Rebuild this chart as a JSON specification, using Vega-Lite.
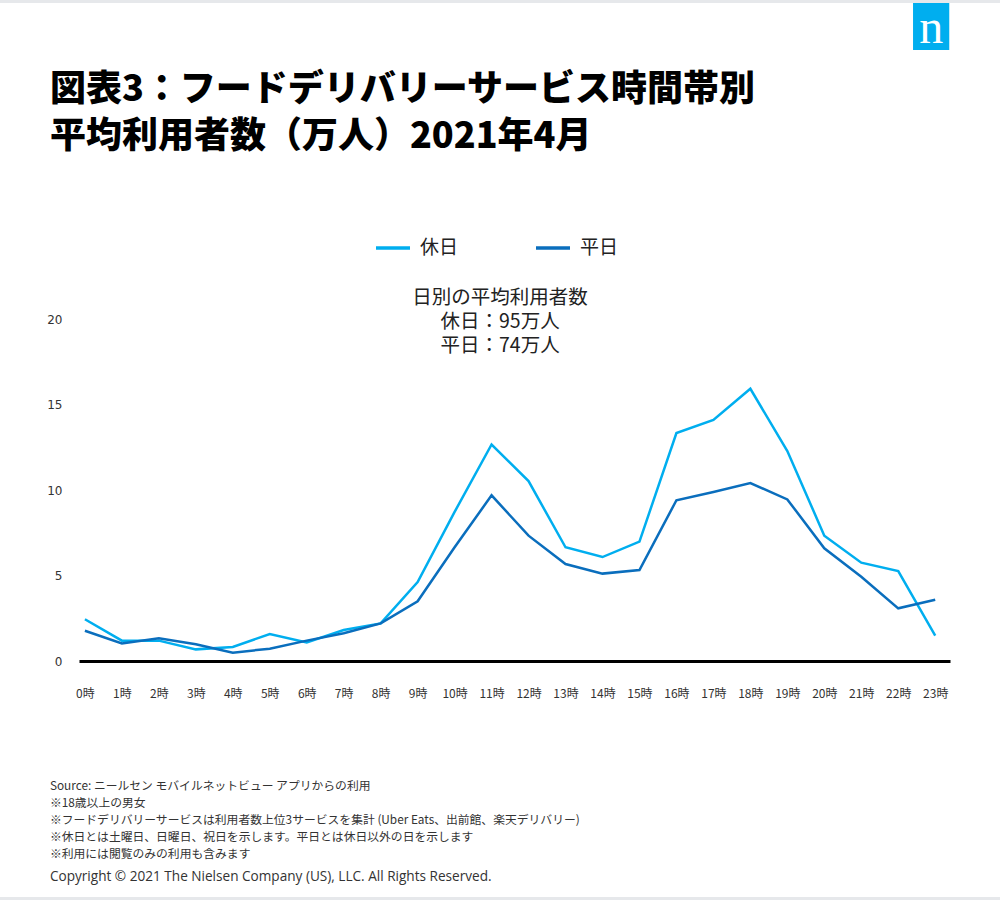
{
  "$schema": "https://vega.github.io/schema/vega-lite/v6.json",
  "autosize": "none",
  "width": 871,
  "height": 342,
  "padding": {"left": 79, "top": 319, "right": 50, "bottom": 239},
  "background": "white",
  "config": {
    "view": {"stroke": null},
    "font": "Noto Sans CJK JP",
    "axisX": {
      "title": null,
      "grid": false,
      "ticks": false,
      "domain": true,
      "domainColor": "#000000",
      "domainWidth": 3,
      "labelFont": "Noto Sans CJK JP",
      "labelFontSize": 12,
      "labelColor": "#333333",
      "labelPadding": 27,
      "labelBaseline": "top",
      "labelFlush": false,
      "labelOverlap": false,
      "labelBound": false
    },
    "axisY": {
      "title": null,
      "grid": false,
      "ticks": false,
      "domain": false,
      "labelFont": "DejaVu Sans",
      "labelFontSize": 12,
      "labelColor": "#333333",
      "labelPadding": 17
    }
  },
  "datasets": {
    "usage": [
      {"hour": 0, "type": "休日", "value": 2.44},
      {"hour": 1, "type": "休日", "value": 1.19},
      {"hour": 2, "type": "休日", "value": 1.19},
      {"hour": 3, "type": "休日", "value": 0.68},
      {"hour": 4, "type": "休日", "value": 0.82},
      {"hour": 5, "type": "休日", "value": 1.58},
      {"hour": 6, "type": "休日", "value": 1.09},
      {"hour": 7, "type": "休日", "value": 1.81},
      {"hour": 8, "type": "休日", "value": 2.2},
      {"hour": 9, "type": "休日", "value": 4.62},
      {"hour": 10, "type": "休日", "value": 8.72},
      {"hour": 11, "type": "休日", "value": 12.66},
      {"hour": 12, "type": "休日", "value": 10.52},
      {"hour": 13, "type": "休日", "value": 6.65},
      {"hour": 14, "type": "休日", "value": 6.08},
      {"hour": 15, "type": "休日", "value": 6.98},
      {"hour": 16, "type": "休日", "value": 13.33},
      {"hour": 17, "type": "休日", "value": 14.1},
      {"hour": 18, "type": "休日", "value": 15.92},
      {"hour": 19, "type": "休日", "value": 12.28},
      {"hour": 20, "type": "休日", "value": 7.33},
      {"hour": 21, "type": "休日", "value": 5.75},
      {"hour": 22, "type": "休日", "value": 5.26},
      {"hour": 23, "type": "休日", "value": 1.48},
      {"hour": 0, "type": "平日", "value": 1.77},
      {"hour": 1, "type": "平日", "value": 1.03},
      {"hour": 2, "type": "平日", "value": 1.33},
      {"hour": 3, "type": "平日", "value": 0.98},
      {"hour": 4, "type": "平日", "value": 0.49},
      {"hour": 5, "type": "平日", "value": 0.72},
      {"hour": 6, "type": "平日", "value": 1.19},
      {"hour": 7, "type": "平日", "value": 1.62},
      {"hour": 8, "type": "平日", "value": 2.2},
      {"hour": 9, "type": "平日", "value": 3.49},
      {"hour": 10, "type": "平日", "value": 6.65},
      {"hour": 11, "type": "平日", "value": 9.69},
      {"hour": 12, "type": "平日", "value": 7.33},
      {"hour": 13, "type": "平日", "value": 5.67},
      {"hour": 14, "type": "平日", "value": 5.11},
      {"hour": 15, "type": "平日", "value": 5.32},
      {"hour": 16, "type": "平日", "value": 9.4},
      {"hour": 17, "type": "平日", "value": 9.88},
      {"hour": 18, "type": "平日", "value": 10.41},
      {"hour": 19, "type": "平日", "value": 9.45},
      {"hour": 20, "type": "平日", "value": 6.59},
      {"hour": 21, "type": "平日", "value": 4.93},
      {"hour": 22, "type": "平日", "value": 3.08},
      {"hour": 23, "type": "平日", "value": 3.58}
    ],
    "one": [{}]
  },
  "layer": [
    {
      "data": {"name": "usage"},
      "mark": {"type": "line", "strokeWidth": 2.5, "clip": false},
      "encoding": {
        "x": {
          "field": "hour",
          "type": "quantitative",
          "scale": {"domain": [-0.16, 23.4], "nice": false, "zero": false},
          "axis": {"values": [0,1,2,3,4,5,6,7,8,9,10,11,12,13,14,15,16,17,18,19,20,21,22,23], "labelExpr": "datum.value + '時'", "labelOverlap": false, "tickCount": 24}
        },
        "y": {
          "field": "value",
          "type": "quantitative",
          "scale": {"domain": [0, 20], "nice": false},
          "axis": {"values": [0, 5, 10, 15, 20]}
        },
        "color": {
          "field": "type",
          "type": "nominal",
          "scale": {"domain": ["休日", "平日"], "range": ["#00AEEF", "#0A6EBD"]},
          "legend": {
            "title": null,
            "orient": "none",
            "legendX": 295,
            "legendY": -90,
            "direction": "horizontal",
            "symbolType": "stroke",
            "symbolSize": 1156,
            "symbolStrokeWidth": 3.5,
            "labelFont": "Noto Sans CJK JP",
            "labelFontSize": 19,
            "labelColor": "#222222",
            "labelOffset": 8,
            "columnPadding": 70,
            "padding": 0
          }
        }
      }
    },
    {
      "data": {"name": "one"},
      "mark": {"type": "text", "align": "left", "baseline": "alphabetic", "fontSize": 36, "fontWeight": 900, "lineHeight": 47, "lineBreak": "\n", "color": "#000000", "font": "Noto Sans CJK JP"},
      "encoding": {
        "x": {"datum": -0.947, "type": "quantitative", "axis": {"values": [0,1,2,3,4,5,6,7,8,9,10,11,12,13,14,15,16,17,18,19,20,21,22,23], "labelExpr": "datum.value + '時'", "labelOverlap": false, "tickCount": 24}},
        "y": {"datum": 32.75, "type": "quantitative", "axis": {"values": [0, 5, 10, 15, 20]}},
        "text": {"value": "図表3：フードデリバリーサービス時間帯別\n平均利用者数（万人）2021年4月"}
      }
    },
    {
      "data": {"name": "one"},
      "mark": {"type": "text", "align": "center", "baseline": "middle", "fontSize": 19.5, "lineHeight": 24, "lineBreak": "\n", "color": "#222222", "font": "Noto Sans CJK JP"},
      "encoding": {
        "x": {"datum": 11.23, "type": "quantitative", "axis": {"values": [0,1,2,3,4,5,6,7,8,9,10,11,12,13,14,15,16,17,18,19,20,21,22,23], "labelExpr": "datum.value + '時'", "labelOverlap": false, "tickCount": 24}},
        "y": {"datum": 21.23, "type": "quantitative", "axis": {"values": [0, 5, 10, 15, 20]}},
        "text": {"value": "日別の平均利用者数\n休日：95万人\n平日：74万人"}
      }
    },
    {
      "data": {"name": "one"},
      "mark": {"type": "text", "align": "left", "baseline": "middle", "fontSize": 11.8, "lineHeight": 17, "lineBreak": "\n", "color": "#333333", "font": "Noto Sans CJK JP"},
      "encoding": {
        "x": {"datum": -0.947, "type": "quantitative", "axis": {"values": [0,1,2,3,4,5,6,7,8,9,10,11,12,13,14,15,16,17,18,19,20,21,22,23], "labelExpr": "datum.value + '時'", "labelOverlap": false, "tickCount": 24}},
        "y": {"datum": -7.31, "type": "quantitative", "axis": {"values": [0, 5, 10, 15, 20]}},
        "text": {"value": "Source: ニールセン モバイルネットビュー アプリからの利用\n※18歳以上の男女\n※フードデリバリーサービスは利用者数上位3サービスを集計 (Uber Eats、出前館、楽天デリバリー)\n※休日とは土曜日、日曜日、祝日を示します。平日とは休日以外の日を示します\n※利用には閲覧のみの利用も含みます"}
      }
    },
    {
      "data": {"name": "one"},
      "mark": {"type": "text", "align": "left", "baseline": "middle", "fontSize": 13.6, "color": "#333333", "font": "Open Sans"},
      "encoding": {
        "x": {"datum": -0.947, "type": "quantitative", "axis": {"values": [0,1,2,3,4,5,6,7,8,9,10,11,12,13,14,15,16,17,18,19,20,21,22,23], "labelExpr": "datum.value + '時'", "labelOverlap": false, "tickCount": 24}},
        "y": {"datum": -12.63, "type": "quantitative", "axis": {"values": [0, 5, 10, 15, 20]}},
        "text": {"value": "Copyright © 2021 The Nielsen Company (US), LLC. All Rights Reserved."}
      }
    },
    {
      "data": {"name": "one"},
      "mark": {"type": "rect", "color": "#00AEEF"},
      "encoding": {
        "x": {"datum": 22.40, "type": "quantitative", "axis": {"values": [0,1,2,3,4,5,6,7,8,9,10,11,12,13,14,15,16,17,18,19,20,21,22,23], "labelExpr": "datum.value + '時'", "labelOverlap": false, "tickCount": 24}},
        "x2": {"datum": 23.38},
        "y": {"datum": 38.65, "type": "quantitative", "axis": {"values": [0, 5, 10, 15, 20]}},
        "y2": {"datum": 35.73}
      }
    },
    {
      "data": {"name": "one"},
      "mark": {"type": "text", "align": "center", "baseline": "alphabetic", "fontSize": 48, "color": "#ffffff", "font": "Liberation Serif"},
      "encoding": {
        "x": {"datum": 22.89, "type": "quantitative", "axis": {"values": [0,1,2,3,4,5,6,7,8,9,10,11,12,13,14,15,16,17,18,19,20,21,22,23], "labelExpr": "datum.value + '時'", "labelOverlap": false, "tickCount": 24}},
        "y": {"datum": 36.14, "type": "quantitative", "axis": {"values": [0, 5, 10, 15, 20]}},
        "text": {"value": "n"}
      }
    },
    {
      "data": {"name": "one"},
      "mark": {"type": "rect", "color": "#e6e8eb"},
      "encoding": {
        "x": {"datum": -2.31, "type": "quantitative", "axis": {"values": [0,1,2,3,4,5,6,7,8,9,10,11,12,13,14,15,16,17,18,19,20,21,22,23], "labelExpr": "datum.value + '時'", "labelOverlap": false, "tickCount": 24}},
        "x2": {"datum": 24.76},
        "y": {"datum": 38.65, "type": "quantitative", "axis": {"values": [0, 5, 10, 15, 20]}},
        "y2": {"datum": 38.48}
      }
    },
    {
      "data": {"name": "one"},
      "mark": {"type": "rect", "color": "#e6e8eb"},
      "encoding": {
        "x": {"datum": -2.31, "type": "quantitative", "axis": {"values": [0,1,2,3,4,5,6,7,8,9,10,11,12,13,14,15,16,17,18,19,20,21,22,23], "labelExpr": "datum.value + '時'", "labelOverlap": false, "tickCount": 24}},
        "x2": {"datum": 24.76},
        "y": {"datum": -13.8, "type": "quantitative", "axis": {"values": [0, 5, 10, 15, 20]}},
        "y2": {"datum": -14.0}
      }
    }
  ]
}
